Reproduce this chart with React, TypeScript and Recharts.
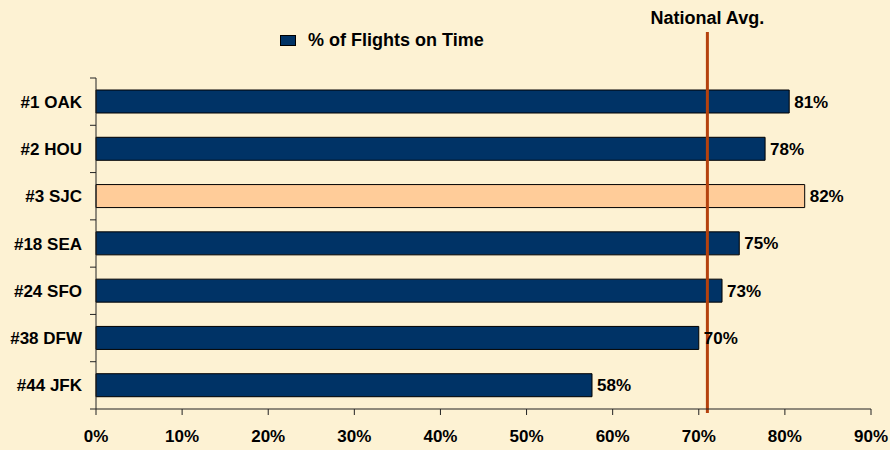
import { BarChart, Bar, XAxis, YAxis, Cell, LabelList, ReferenceLine } from "recharts";

const airports = ["#1 OAK", "#2 HOU", "#3 SJC", "#18 SEA", "#24 SFO", "#38 DFW", "#44 JFK"];
const onTime = [80.5, 77.7, 82.3, 74.7, 72.7, 70.0, 57.6];
const highlighted = ["#3 SJC"];
const xTicks = [0, 10, 20, 30, 40, 50, 60, 70, 80, 90];
const nationalAvg = 71;

const data = airports.map((name, i) => ({ name, onTime: onTime[i] }));

const W = 890;
const H = 450;
const MARGIN = { top: 78, right: 19, bottom: 0, left: 0 };
const X_AXIS_H = 41;
const BAND = (H - MARGIN.top - MARGIN.bottom - X_AXIS_H) / airports.length;

const FONT = "'Liberation Sans', Arial, sans-serif";
const NAVY = "#003366";
const PEACH = "#FFCC99";
const BG = "#FDF2D3";
const AVG = "#B5420E";

function CategoryTick(props: any) {
  const { x, y, payload } = props;
  const axisX = x + 14;
  return (
    <g>
      <line x1={axisX - 6} y1={y - BAND / 2} x2={axisX} y2={y - BAND / 2} stroke="#222" />
      {payload.index === airports.length - 1 && (
        <line x1={axisX - 6} y1={y + BAND / 2} x2={axisX} y2={y + BAND / 2} stroke="#222" />
      )}
      <text x={x} y={y} dy={6} textAnchor="end" fontFamily={FONT} fontWeight="bold" fontSize={17} fill="#000">
        {payload.value}
      </text>
    </g>
  );
}

function AvgLine(props: any) {
  const { x1, y1, x2, y2 } = props;
  const top = Math.min(y1, y2);
  const bottom = Math.max(y1, y2);
  return (
    <g>
      <line x1={x1} y1={top - 46} x2={x2} y2={bottom + 4} stroke={AVG} strokeWidth={3} />
      <text x={x1} y={top - 54} textAnchor="middle" fontFamily={FONT} fontWeight="bold" fontSize={18} fill="#000">
        National Avg.
      </text>
    </g>
  );
}

function LegendBox() {
  return (
    <div
      style={{
        position: "absolute",
        left: 280,
        top: 30,
        display: "flex",
        alignItems: "center",
        fontFamily: FONT,
        fontWeight: "bold",
        fontSize: 18,
        lineHeight: "20px",
      }}
    >
      <span style={{ display: "inline-block", width: 16, height: 11, background: NAVY, border: "1px solid #000", boxSizing: "border-box", marginRight: 12 }} />
      <span>% of Flights on Time</span>
    </div>
  );
}

export default function App() {
  return (
    <div style={{ position: "fixed", left: 0, top: 0, width: W, height: H, background: BG }}>
      <BarChart width={W} height={H} data={data} layout="vertical" margin={MARGIN} barCategoryGap={0}>
        <XAxis
          type="number"
          domain={[0, 90]}
          ticks={xTicks}
          interval={0}
          height={X_AXIS_H}
          tickFormatter={(v) => `${v}%`}
          stroke="#222"
          tickSize={6}
          tickMargin={15}
          tick={{ fill: "#000", fontFamily: FONT, fontWeight: "bold", fontSize: 17 }}
        />
        <YAxis
          type="category"
          dataKey="name"
          width={96}
          stroke="#222"
          tickLine={false}
          tickSize={6}
          tickMargin={8}
          interval={0}
          tick={<CategoryTick />}
        />
        <Bar dataKey="onTime" barSize={23} stroke="#000" strokeWidth={1} isAnimationActive={false}>
          {data.map((d) => (
            <Cell key={d.name} fill={highlighted.includes(d.name) ? PEACH : NAVY} />
          ))}
          <LabelList
            dataKey="onTime"
            position="right"
            offset={5}
            formatter={(v: any) => `${Math.round(v)}%`}
            style={{ fill: "#000", fontFamily: FONT, fontWeight: "bold", fontSize: 17 }}
          />
        </Bar>
        <ReferenceLine x={nationalAvg} shape={<AvgLine />} />
      </BarChart>
      <LegendBox />
    </div>
  );
}
